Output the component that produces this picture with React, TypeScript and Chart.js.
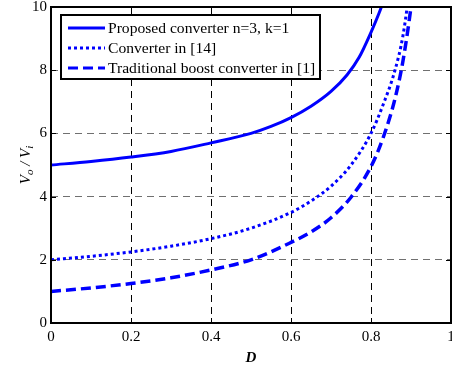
import React, { useEffect, useRef } from 'react';
import { Chart, registerables } from 'chart.js';

Chart.register(...registerables);

const FONT = '"Liberation Serif", "Times New Roman", serif';

const xTicks = [0, 0.2, 0.4, 0.6, 0.8, 1];
const yTicks = [0, 2, 4, 6, 8, 10];

const legendLabels = [
  'Proposed converter n=3, k=1',
  'Converter in [14]',
  'Traditional boost converter in [1]',
];

const dProposed = [0, 0.1, 0.2, 0.3, 0.4, 0.5, 0.55, 0.6, 0.65, 0.7, 0.74, 0.77, 0.8, 0.82, 0.84];
const vProposed = [5.0, 5.11, 5.25, 5.43, 5.7, 6.0, 6.22, 6.5, 6.86, 7.33, 7.85, 8.4, 9.2, 9.8, 10.5];

const dRef14 = [0, 0.1, 0.2, 0.3, 0.4, 0.5, 0.6, 0.65, 0.7, 0.75, 0.8, 0.83, 0.86, 0.88, 0.9];
const vRef14 = [2.0, 2.11, 2.25, 2.43, 2.67, 3.0, 3.5, 3.86, 4.33, 5.0, 6.0, 6.9, 8.0, 9.1, 10.9];

const dBoost = [0, 0.1, 0.2, 0.3, 0.4, 0.5, 0.6, 0.65, 0.7, 0.75, 0.8, 0.83, 0.86, 0.88, 0.9, 0.91];
const vBoost = [1.0, 1.11, 1.25, 1.43, 1.68, 2.0, 2.55, 2.88, 3.33, 3.98, 4.95, 5.85, 7.1, 8.3, 10.0, 11.1];

const BLUE = '#0000ff';

const toPts = (xs: number[], ys: number[]) => xs.map((x, i) => ({ x, y: ys[i] }));

const decor = {
  id: 'decor',
  afterDatasetsDraw(chart: any) {
    const { ctx, chartArea: a, scales } = chart;
    ctx.save();
    ctx.setLineDash([]);
    // frame
    ctx.strokeStyle = '#000';
    ctx.lineWidth = 2;
    ctx.strokeRect(a.left, a.top, a.right - a.left, a.bottom - a.top);
    // inner ticks
    ctx.lineWidth = 1;
    const tl = 5;
    xTicks.slice(1, -1).forEach((v) => {
      const x = Math.round(scales.x.getPixelForValue(v)) + 0.5;
      ctx.beginPath();
      ctx.moveTo(x, a.bottom);
      ctx.lineTo(x, a.bottom - tl);
      ctx.moveTo(x, a.top);
      ctx.lineTo(x, a.top + tl);
      ctx.stroke();
    });
    yTicks.slice(1, -1).forEach((v) => {
      const y = Math.round(scales.y.getPixelForValue(v)) + 0.5;
      ctx.beginPath();
      ctx.moveTo(a.left, y);
      ctx.lineTo(a.left + tl, y);
      ctx.moveTo(a.right, y);
      ctx.lineTo(a.right - tl, y);
      ctx.stroke();
    });

    // legend
    const bx = a.left + 10;
    const by = a.top + 8;
    const bw = 259;
    const bh = 64;
    ctx.fillStyle = '#fff';
    ctx.fillRect(bx, by, bw, bh);
    ctx.lineWidth = 2;
    ctx.strokeStyle = '#000';
    ctx.strokeRect(bx, by, bw, bh);
    const dashes = [[], [3, 3], [10, 5]];
    ctx.font = '15.6px ' + FONT;
    ctx.textBaseline = 'middle';
    legendLabels.forEach((lab, i) => {
      const y = by + 13 + i * 20;
      ctx.strokeStyle = BLUE;
      ctx.lineWidth = 3;
      ctx.setLineDash(dashes[i]);
      ctx.beginPath();
      ctx.moveTo(bx + 7, y);
      ctx.lineTo(bx + 44, y);
      ctx.stroke();
      ctx.setLineDash([]);
      ctx.fillStyle = '#000';
      ctx.fillText(lab, bx + 47, y + 1);
    });

    // x title
    ctx.fillStyle = '#000';
    ctx.textAlign = 'center';
    ctx.textBaseline = 'alphabetic';
    ctx.font = 'italic bold 15px ' + FONT;
    ctx.fillText('D', (a.left + a.right) / 2, 362);

    // y title
    ctx.save();
    ctx.translate(30, (a.top + a.bottom) / 2);
    ctx.rotate(-Math.PI / 2);
    ctx.textAlign = 'left';
    const parts = [
      { t: 'V', sub: false },
      { t: 'o', sub: true },
      { t: ' / ', sub: false },
      { t: 'V', sub: false },
      { t: 'i', sub: true },
    ];
    const fontFor = (sub: boolean) => 'italic ' + (sub ? 11 : 15) + 'px ' + FONT;
    let total = 0;
    parts.forEach((p) => {
      ctx.font = fontFor(p.sub);
      total += ctx.measureText(p.t).width;
    });
    let cx = -total / 2;
    parts.forEach((p) => {
      ctx.font = fontFor(p.sub);
      ctx.fillText(p.t, cx, p.sub ? 3 : 0);
      cx += ctx.measureText(p.t).width;
    });
    ctx.restore();

    ctx.restore();
  },
};

export default function App() {
  const ref = useRef<HTMLCanvasElement>(null);
  useEffect(() => {
    if (!ref.current) return;
    const chart = new Chart(ref.current, {
      type: 'line',
      data: {
        datasets: [
          {
            label: legendLabels[0],
            data: toPts(dProposed, vProposed),
            borderColor: BLUE,
            borderWidth: 3,
            pointRadius: 0,
            cubicInterpolationMode: 'monotone',
          },
          {
            label: legendLabels[1],
            data: toPts(dRef14, vRef14),
            borderColor: BLUE,
            borderWidth: 3,
            borderDash: [3, 3],
            pointRadius: 0,
            cubicInterpolationMode: 'monotone',
          },
          {
            label: legendLabels[2],
            data: toPts(dBoost, vBoost),
            borderColor: BLUE,
            borderWidth: 3.5,
            borderDash: [10, 5],
            pointRadius: 0,
            cubicInterpolationMode: 'monotone',
          },
        ],
      },
      options: {
        animation: false,
        responsive: false,
        layout: { padding: { top: 7, right: 1, left: 0, bottom: 0 } },
        plugins: { legend: { display: false }, tooltip: { enabled: false } },
        scales: {
          x: {
            type: 'linear',
            min: 0,
            max: 1,
            afterBuildTicks: (s: any) => {
              s.ticks = xTicks.map((v) => ({ value: v }));
            },
            afterFit: (s: any) => {
              s.height = 48;
              s.paddingLeft = 0;
              s.paddingRight = 0;
            },
            ticks: {
              color: '#000',
              font: { family: FONT, size: 15 },
              padding: 5,
              maxRotation: 0,
              autoSkip: false,
              callback: (v: any) => String(Number(v)),
            },
            grid: {
              drawTicks: false,
              color: (c: any) =>
                c.tick && (c.tick.value === 0 || c.tick.value === 1) ? 'rgba(0,0,0,0)' : '#000',
              lineWidth: 1,
            },
            border: { display: false, dash: [7, 5] },
          },
          y: {
            type: 'linear',
            min: 0,
            max: 10,
            afterBuildTicks: (s: any) => {
              s.ticks = yTicks.map((v) => ({ value: v }));
            },
            afterFit: (s: any) => {
              s.width = 51;
              s.paddingTop = 0;
              s.paddingBottom = 0;
            },
            ticks: {
              color: '#000',
              font: { family: FONT, size: 15 },
              padding: 4,
              autoSkip: false,
              callback: (v: any) => String(Number(v)),
            },
            grid: {
              drawTicks: false,
              color: (c: any) =>
                c.tick && (c.tick.value === 0 || c.tick.value === 10) ? 'rgba(0,0,0,0)' : '#707070',
              lineWidth: 1,
            },
            border: { display: false, dash: [7, 5] },
          },
        },
      },
      plugins: [decor],
    } as any);
    return () => chart.destroy();
  }, []);
  return (
    <div style={{ position: 'fixed', left: 0, top: 0, width: 452, height: 371, background: '#fff' }}>
      <canvas ref={ref} width={452} height={371} style={{ display: 'block' }} />
    </div>
  );
}
